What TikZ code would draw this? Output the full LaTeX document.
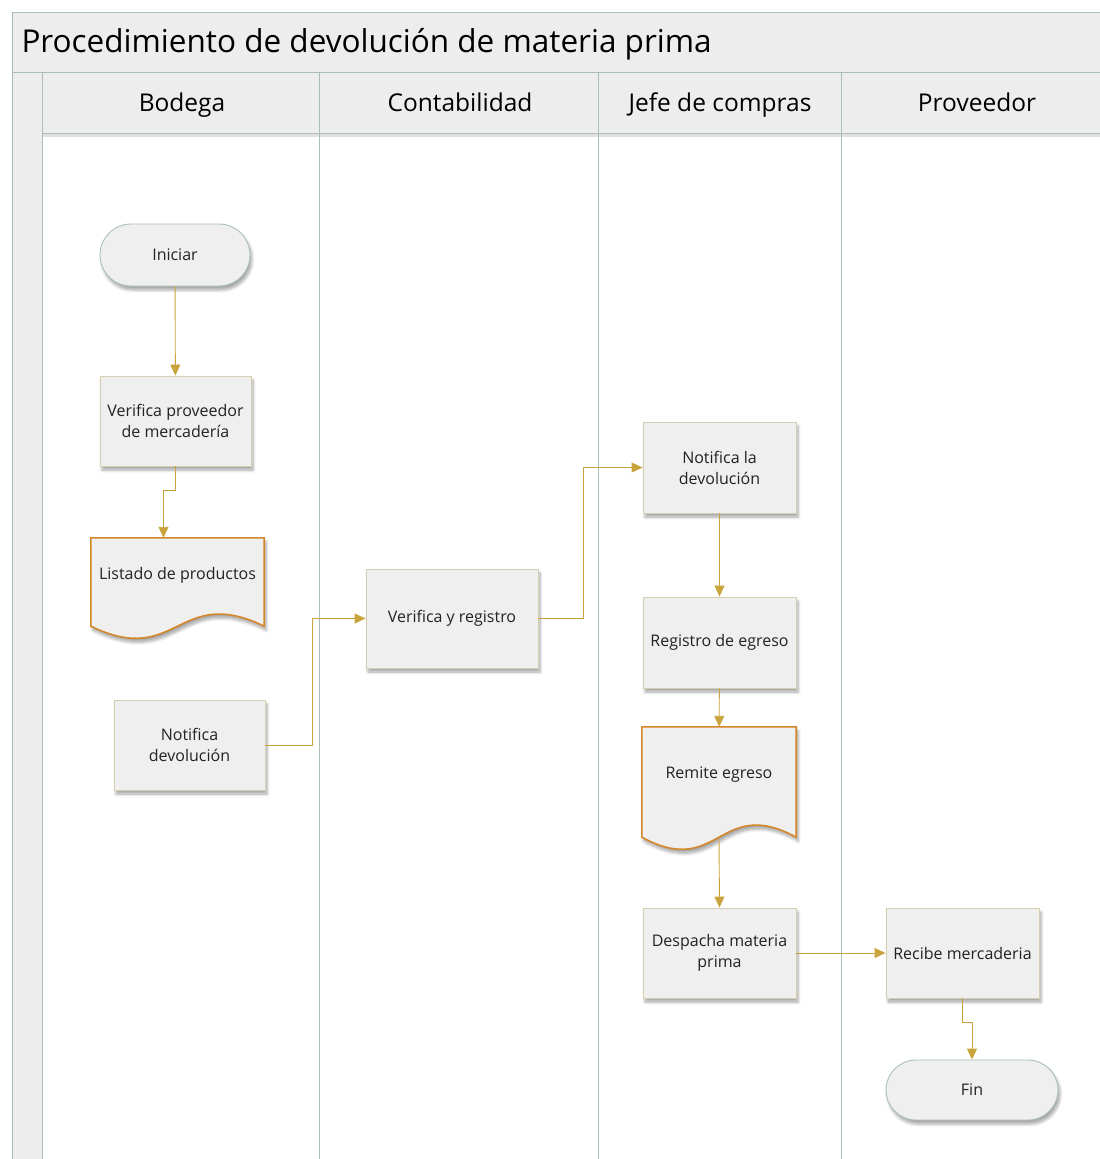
\documentclass[tikz,border=0pt]{standalone}
\usepackage{fontspec}
\setmainfont{Open Sans}
\usetikzlibrary{arrows.meta,shadows.blur,backgrounds,shapes.misc}

\definecolor{lanefill}{HTML}{EDEDED}
\definecolor{laneline}{HTML}{AABDB6}
\definecolor{boxfill}{HTML}{EFEFEF}
\definecolor{boxline}{HTML}{D6CFAF}
\definecolor{termline}{HTML}{A9C0B8}
\definecolor{docline}{HTML}{D4862A}
\definecolor{flowline}{HTML}{C9A43C}
\definecolor{txt}{HTML}{222222}

\tikzset{
  boxshadow/.style={blur shadow={shadow xshift=2pt,shadow yshift=-4pt,shadow blur steps=6,shadow blur radius=3pt,shadow opacity=35}},
  proc/.style={rectangle,draw=boxline,fill=boxfill,line width=0.9pt,align=center,
    text=txt,font=\fontsize{16}{21}\selectfont,inner sep=0pt,boxshadow},
  term/.style={proc,rounded rectangle,draw=termline},
  doc/.style={rectangle,align=center,text=txt,font=\fontsize{16}{21}\selectfont,inner sep=0pt},
  docedge/.style={draw=docline,fill=boxfill,line width=1.6pt,boxshadow},
  flow/.style={draw=flowline,line width=0.9pt,-{Triangle[length=11pt,width=10pt]}},
  lanehead/.style={anchor=base,font=\fontsize{24.5}{28}\selectfont,text=black},
}

% document shape drawn around a node
\newcommand{\docshape}[1]{%
  \begin{scope}[on background layer]
    \path[docedge] (#1.north west) -- (#1.north east) -- ([yshift=-14pt]#1.south east)
      .. controls ([yshift=28pt]#1.south) and ([yshift=-56pt]#1.south) .. ([yshift=-14pt]#1.south west) -- cycle;
  \end{scope}}

\begin{document}
\begin{tikzpicture}[x=1pt,y=-1pt]
  \useasboundingbox (0,0) rectangle (1100,1159);

  % lanes
  \fill[lanefill] (12,12) rectangle (1100,72);
  \fill[lanefill] (12,72) rectangle (42,1159);
  \fill[lanefill] (42,72) rectangle (1100,133);
  \fill[black,opacity=0.12] (42,133) rectangle (1100,137);
  \draw[laneline,line width=0.9pt] (1100,12) -- (12,12) -- (12,1159);
  \draw[laneline,line width=0.9pt] (12,72) -- (1100,72);
  \draw[laneline,line width=0.9pt] (42,133) -- (1100,133);
  \draw[laneline,line width=0.9pt] (42,72) -- (42,1159);
  \draw[laneline,line width=0.9pt] (319,72) -- (319,1159);
  \draw[laneline,line width=0.9pt] (598,72) -- (598,1159);
  \draw[laneline,line width=0.9pt] (841,72) -- (841,1159);

  \node[anchor=base west,font=\fontsize{31.5}{36}\selectfont] (titulo) at (18,52) {Procedimiento de devolución de materia prima};
  \node[lanehead] (bodega) at (182,111) {Bodega};
  \node[lanehead] (conta) at (460,111) {Contabilidad};
  \node[lanehead] (jefe) at (720,111) {Jefe de compras};
  \node[lanehead] (prov) at (977,111) {Proveedor};

  % steps
  \node[term,minimum width=150pt,minimum height=62pt] (iniciar) at (175,255) {Iniciar};
  \node[proc,minimum width=151pt,minimum height=90pt] (verif) at (175.5,421) {Verifica proveedor\\de mercadería};
  \node[doc,minimum width=173pt,minimum height=74pt] (listado) at (177.5,575) {Listado de productos};
  \node[proc,minimum width=151pt,minimum height=90pt] (notdev) at (189.5,745) {Notifica\\devolución};
  \node[proc,minimum width=172pt,minimum height=99pt] (verreg) at (452,618.5) {Verifica y registro};
  \node[proc,minimum width=153pt,minimum height=91pt] (notla) at (719.5,467.5) {Notifica la\\devolución};
  \node[proc,minimum width=153pt,minimum height=91pt] (registro) at (719.5,642.5) {Registro de egreso};
  \node[doc,minimum width=154pt,minimum height=96pt] (remite) at (719,775) {Remite egreso};
  \node[proc,minimum width=153pt,minimum height=90pt] (despacha) at (719.5,953) {Despacha materia\\prima};
  \node[proc,minimum width=153pt,minimum height=90pt] (recibe) at (962.5,953) {Recibe mercaderia};
  \node[term,minimum width=172pt,minimum height=60pt] (fin) at (972,1090) {Fin};

  \docshape{listado}
  \docshape{remite}

  % flows
  \draw[flow] (iniciar) -- (verif);
  \draw[flow] (verif.south) -- ++(0,24) -| ([xshift=-14pt]listado.north);
  \draw[flow] (notdev.east) -- ++(47,0) |- (verreg.west);
  \draw[flow] (verreg.east) -- ++(45,0) |- (notla.west);
  \draw[flow] (notla) -- (registro);
  \draw[flow] (registro) -- (remite);
  \draw[flow] ([yshift=-14pt]remite.south) -- (despacha.north);
  \draw[flow] (despacha) -- (recibe);
  \draw[flow] (recibe.south) -- ++(0,24) -| (fin.north);
\end{tikzpicture}
\end{document}
